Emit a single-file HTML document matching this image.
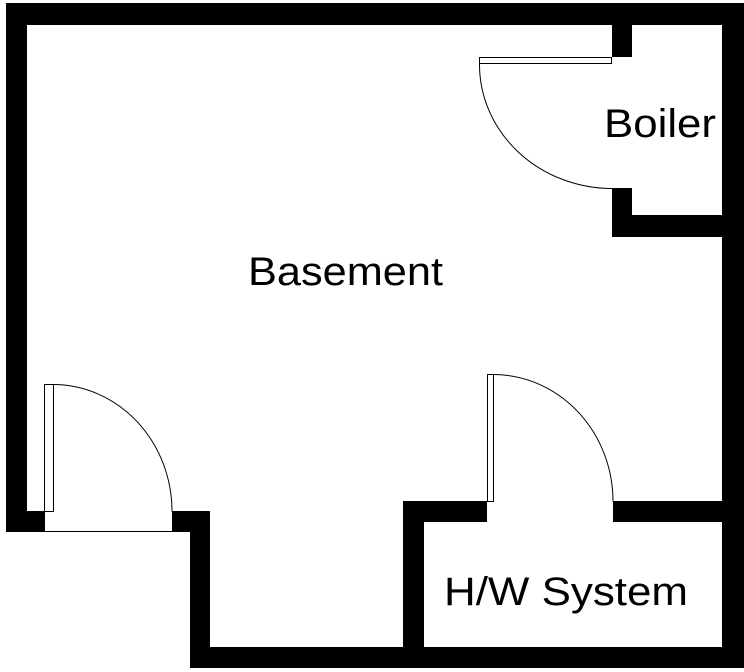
<!DOCTYPE html>
<html><head><style>
html,body{margin:0;padding:0;background:#fff;}
svg{display:block;}
text{font-family:"Liberation Sans",sans-serif;font-size:40px;fill:#000;}
</style></head><body>
<svg width="744" height="672" viewBox="0 0 744 672">
<g fill="#000">
<rect x="6" y="3" width="738" height="22"/>
<rect x="6" y="3" width="21" height="529"/>
<rect x="6" y="511" width="39" height="21"/>
<rect x="172" y="511" width="38" height="21"/>
<rect x="190" y="511" width="20" height="157"/>
<rect x="190" y="647" width="554" height="21"/>
<rect x="722" y="3" width="22" height="665"/>
<rect x="403" y="501" width="21" height="167"/>
<rect x="403" y="501" width="84" height="21"/>
<rect x="613" y="501" width="131" height="21"/>
<rect x="612" y="3" width="20" height="54"/>
<rect x="612" y="188" width="20" height="49"/>
<rect x="612" y="215" width="132" height="22"/>
</g>
<g fill="none" stroke="#000" stroke-width="1">
<rect x="44.5" y="384.5" width="9" height="127"/>
<path d="M53 384.5 A119 127 0 0 1 172 511.5"/>
<line x1="45" y1="531.5" x2="172" y2="531.5"/>
<rect x="487.5" y="374.5" width="6" height="127"/>
<path d="M493 374.5 A120 127 0 0 1 613 501.5"/>
<rect x="479.5" y="57.5" width="132" height="6"/>
<path d="M479.5 64 A133 124 0 0 0 612 188.5"/>
</g>
<text x="248" y="285" textLength="195" lengthAdjust="spacingAndGlyphs">Basement</text>
<text x="604" y="137" textLength="112" lengthAdjust="spacingAndGlyphs">Boiler</text>
<text x="444" y="605" textLength="244" lengthAdjust="spacingAndGlyphs">H/W System</text>
</svg>
</body></html>
